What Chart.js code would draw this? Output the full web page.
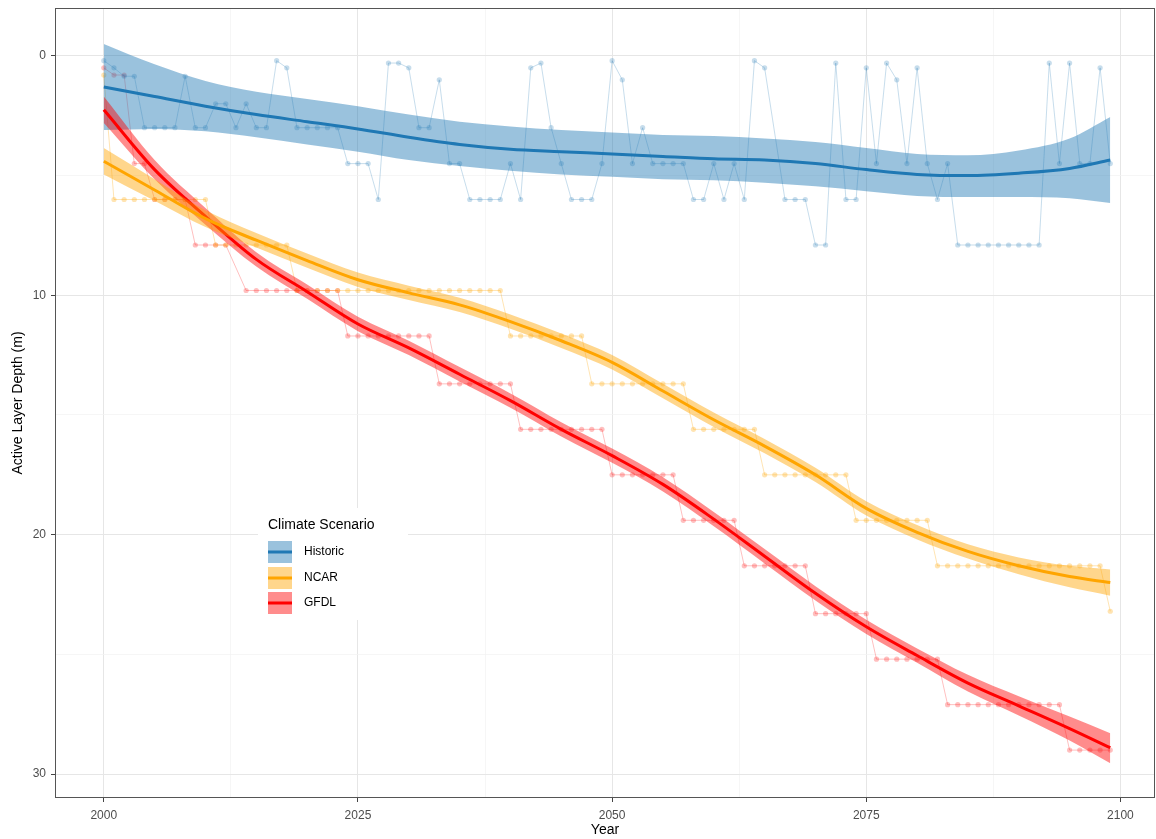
<!DOCTYPE html>
<html>
<head>
<meta charset="utf-8">
<script src="https://cdn.jsdelivr.net/npm/chart.js@4.4.1/dist/chart.umd.min.js"></script>
<style>
  html, body { margin: 0; padding: 0; background: #fff; }
</style>
</head>
<body>
<canvas id="ald" width="1156" height="839"></canvas>
<script>
// yearly observations
const years = [
  2000, 2001, 2002, 2003, 2004, 2005, 2006, 2007, 2008, 2009,
  2010, 2011, 2012, 2013, 2014, 2015, 2016, 2017, 2018, 2019,
  2020, 2021, 2022, 2023, 2024, 2025, 2026, 2027, 2028, 2029,
  2030, 2031, 2032, 2033, 2034, 2035, 2036, 2037, 2038, 2039,
  2040, 2041, 2042, 2043, 2044, 2045, 2046, 2047, 2048, 2049,
  2050, 2051, 2052, 2053, 2054, 2055, 2056, 2057, 2058, 2059,
  2060, 2061, 2062, 2063, 2064, 2065, 2066, 2067, 2068, 2069,
  2070, 2071, 2072, 2073, 2074, 2075, 2076, 2077, 2078, 2079,
  2080, 2081, 2082, 2083, 2084, 2085, 2086, 2087, 2088, 2089,
  2090, 2091, 2092, 2093, 2094, 2095, 2096, 2097, 2098, 2099
];

const historic = [
  0.2, 0.5, 0.85, 0.85, 3.0, 3.0, 3.0, 3.0, 0.85, 3.0,
  3.0, 2.0, 2.0, 3.0, 2.0, 3.0, 3.0, 0.2, 0.5, 3.0,
  3.0, 3.0, 3.0, 3.0, 4.5, 4.5, 4.5, 6.0, 0.3, 0.3,
  0.5, 3.0, 3.0, 1.0, 4.5, 4.5, 6.0, 6.0, 6.0, 6.0,
  4.5, 6.0, 0.5, 0.3, 3.0, 4.5, 6.0, 6.0, 6.0, 4.5,
  0.2, 1.0, 4.5, 3.0, 4.5, 4.5, 4.5, 4.5, 6.0, 6.0,
  4.5, 6.0, 4.5, 6.0, 0.2, 0.5, null, 6.0, 6.0, 6.0,
  7.9, 7.9, 0.3, 6.0, 6.0, 0.5, 4.5, 0.3, 1.0, 4.5,
  0.5, 4.5, 6.0, 4.5, 7.9, 7.9, 7.9, 7.9, 7.9, 7.9,
  7.9, 7.9, 7.9, 0.3, 4.5, 0.3, 4.5, 4.5, 0.5, 4.5
];

const ncar = [
  0.8, 6.0, 6.0, 6.0, 6.0, 6.0, 6.0, 6.0, 6.0, 6.0,
  6.0, 7.9, 7.9, 7.9, 7.9, 7.9, 7.9, 7.9, 7.9, 9.8,
  9.8, 9.8, 9.8, 9.8, 9.8, 9.8, 9.8, 9.8, 9.8, 9.8,
  9.8, 9.8, 9.8, 9.8, 9.8, 9.8, 9.8, 9.8, 9.8, 9.8,
  11.7, 11.7, 11.7, 11.7, 11.7, 11.7, 11.7, 11.7, 13.7, 13.7,
  13.7, 13.7, 13.7, 13.7, 13.7, 13.7, 13.7, 13.7, 15.6, 15.6,
  15.6, 15.6, 15.6, 15.6, 15.6, 17.5, 17.5, 17.5, 17.5, 17.5,
  17.5, 17.5, 17.5, 17.5, 19.4, 19.4, 19.4, 19.4, 19.4, 19.4,
  19.4, 19.4, 21.3, 21.3, 21.3, 21.3, 21.3, 21.3, 21.3, 21.3,
  21.3, 21.3, 21.3, 21.3, 21.3, 21.3, 21.3, 21.3, 21.3, 23.2
];

const gfdl = [
  0.5, 0.8, 0.8, 4.5, 4.5, 6.0, 6.0, 6.0, 6.0, 7.9,
  7.9, 7.9, 7.9, null, 9.8, 9.8, 9.8, 9.8, 9.8, 9.8,
  9.8, 9.8, 9.8, 9.8, 11.7, 11.7, 11.7, 11.7, 11.7, 11.7,
  11.7, 11.7, 11.7, 13.7, 13.7, 13.7, 13.7, 13.7, 13.7, 13.7,
  13.7, 15.6, 15.6, 15.6, 15.6, 15.6, 15.6, 15.6, 15.6, 15.6,
  17.5, 17.5, 17.5, 17.5, 17.5, 17.5, 17.5, 19.4, 19.4, 19.4,
  19.4, 19.4, 19.4, 21.3, 21.3, 21.3, 21.3, 21.3, 21.3, 21.3,
  23.3, 23.3, 23.3, 23.3, 23.3, 23.3, 25.2, 25.2, 25.2, 25.2,
  25.2, 25.2, 25.2, 27.1, 27.1, 27.1, 27.1, 27.1, 27.1, 27.1,
  27.1, 27.1, 27.1, 27.1, 27.1, 29.0, 29.0, 29.0, 29.0, 29.0
];

// smoothed fits with confidence band, read every 5 years
const fitYears = [2000, 2005, 2010, 2015, 2020, 2025, 2030, 2035, 2040, 2045,
                  2050, 2055, 2060, 2065, 2070, 2075, 2080, 2085, 2090, 2095, 2099];

const histFit = [1.3, 1.7, 2.1, 2.45, 2.75, 3.05, 3.4, 3.7, 3.9, 4.0,
                 4.1, 4.2, 4.3, 4.35, 4.5, 4.75, 4.95, 5.0, 4.9, 4.7, 4.35];
const histLo = [-0.5, 0.35, 1.05, 1.5, 1.8, 2.1, 2.45, 2.75, 2.95, 3.1,
                3.2, 3.3, 3.35, 3.45, 3.6, 3.85, 4.1, 4.15, 3.95, 3.45, 2.55];
const histHi = [3.1, 3.05, 3.15, 3.4, 3.7, 4.0, 4.35, 4.6, 4.8, 4.95,
                5.05, 5.15, 5.2, 5.3, 5.45, 5.65, 5.85, 5.9, 5.9, 5.95, 6.15];

const ncarFit = [4.4, 5.6, 6.8, 7.7, 8.55, 9.35, 9.9, 10.4, 11.1, 11.9,
                 12.8, 14.0, 15.2, 16.3, 17.5, 18.9, 19.9, 20.7, 21.3, 21.75, 22.0];
const ncarLo = [3.85, 5.15, 6.45, 7.4, 8.25, 9.05, 9.6, 10.1, 10.8, 11.6,
                12.5, 13.7, 14.9, 16.0, 17.2, 18.6, 19.6, 20.4, 20.95, 21.3, 21.45];
const ncarHi = [4.95, 6.05, 7.15, 8.0, 8.85, 9.65, 10.2, 10.7, 11.4, 12.2,
                13.1, 14.3, 15.5, 16.6, 17.8, 19.2, 20.2, 21.0, 21.65, 22.2, 22.55];

const gfdlFit = [2.25, 4.75, 6.7, 8.5, 9.85, 11.2, 12.2, 13.3, 14.4, 15.6,
                 16.7, 17.9, 19.35, 20.9, 22.45, 23.85, 25.05, 26.2, 27.15, 28.1, 28.9];
const gfdlLo = [1.7, 4.35, 6.35, 8.2, 9.55, 10.9, 11.9, 13.0, 14.1, 15.3,
                16.4, 17.6, 19.05, 20.6, 22.15, 23.55, 24.75, 25.85, 26.75, 27.6, 28.3];
const gfdlHi = [2.8, 5.15, 7.05, 8.8, 10.15, 11.5, 12.5, 13.6, 14.7, 15.9,
                17.0, 18.2, 19.65, 21.2, 22.75, 24.15, 25.35, 26.55, 27.55, 28.6, 29.55];

const xTicks = [2000, 2012.5, 2025, 2037.5, 2050, 2062.5, 2075, 2087.5, 2100];
const yTicks = [0, 5, 10, 15, 20, 25, 30];

const scenarios = [
  { name: 'Historic', line: '#1F78B4', band: 'rgba(31,120,180,0.45)' },
  { name: 'NCAR', line: '#FFA500', band: 'rgba(255,165,0,0.45)' },
  { name: 'GFDL', line: '#FF0000', band: 'rgba(255,0,0,0.45)' }
];

const FONT = "'Liberation Sans', Arial, sans-serif";

function pts(xs, ys) {
  return xs.map((x, i) => ({ x: x, y: ys[i] }));
}

function fitLine(vals, color) {
  return {
    data: pts(fitYears, vals), borderColor: color, borderWidth: 3,
    pointRadius: 0, fill: false, cubicInterpolationMode: 'monotone'
  };
}
function bandEdge(vals, fillTo, color) {
  return {
    data: pts(fitYears, vals), borderWidth: 0, borderColor: 'rgba(0,0,0,0)',
    pointRadius: 0, cubicInterpolationMode: 'monotone',
    fill: fillTo === null ? false : fillTo, backgroundColor: color
  };
}
function raw(vals, color) {
  return {
    data: pts(years, vals), borderColor: color, borderWidth: 1,
    pointRadius: 2.6, pointBorderWidth: 0, pointBackgroundColor: color,
    fill: false, tension: 0, spanGaps: true
  };
}

const datasets = [
  fitLine(ncarFit, scenarios[1].line),
  bandEdge(ncarHi, 2, scenarios[1].band),
  bandEdge(ncarLo, null, 'rgba(0,0,0,0)'),
  fitLine(gfdlFit, scenarios[2].line),
  bandEdge(gfdlHi, 5, scenarios[2].band),
  bandEdge(gfdlLo, null, 'rgba(0,0,0,0)'),
  fitLine(histFit, scenarios[0].line),
  bandEdge(histHi, 8, scenarios[0].band),
  bandEdge(histLo, null, 'rgba(0,0,0,0)'),
  raw(historic, 'rgba(31,120,180,0.25)'),
  raw(ncar, 'rgba(255,165,0,0.3)'),
  raw(gfdl, 'rgba(255,0,0,0.25)')
];

// panel border + legend inside the panel
const decor = {
  id: 'decor',
  afterDraw(chart) {
    const c = chart.ctx, a = chart.chartArea;
    c.save();
    c.strokeStyle = '#555';
    c.lineWidth = 1;
    c.strokeRect(a.left + 0.5, a.top + 0.5, a.right - a.left - 1, a.bottom - a.top - 1);

    const lx = 258, ly = 508;
    c.fillStyle = '#fff';
    c.fillRect(lx, ly, 150, 112);
    c.fillStyle = '#000';
    c.font = '14px ' + FONT;
    c.textBaseline = 'middle';
    c.textAlign = 'left';
    c.fillText('Climate Scenario', 268, 525);
    const centers = [552, 578, 603];
    scenarios.forEach((s, i) => {
      const cy = centers[i];
      c.fillStyle = s.band;
      c.fillRect(268, cy - 11, 24, 22);
      c.strokeStyle = s.line;
      c.lineWidth = 3;
      c.beginPath();
      c.moveTo(268, cy);
      c.lineTo(292, cy);
      c.stroke();
      c.fillStyle = '#000';
      c.font = '12px ' + FONT;
      c.fillText(s.name, 304, cy);
    });
    c.restore();
  }
};

new Chart(document.getElementById('ald'), {
  type: 'line',
  data: { datasets: datasets },
  plugins: [decor],
  options: {
    responsive: false,
    animation: false,
    devicePixelRatio: 1,
    layout: { autoPadding: false, padding: { top: 8, right: 1, left: 0, bottom: 0 } },
    plugins: { legend: { display: false }, tooltip: { enabled: false } },
    scales: {
      x: {
        type: 'linear', min: 1995.2, max: 2103.4,
        afterBuildTicks: s => { s.ticks = xTicks.map(v => ({ value: v })); },
        afterFit: s => { s.height = 41; s.paddingLeft = 0; s.paddingRight = 0; },
        border: { display: false },
        grid: {
          color: c => (c.tick && c.tick.value % 25 === 0) ? '#e6e6e6' : '#f2f2f2',
          lineWidth: c => (c.tick && c.tick.value % 25 === 0) ? 1 : 0.7,
          tickLength: 4, tickWidth: 1,
          tickColor: c => (c.tick && c.tick.value % 25 === 0) ? '#444' : 'rgba(0,0,0,0)'
        },
        ticks: {
          autoSkip: false, maxRotation: 0, padding: 6, color: '#4d4d4d',
          font: { family: FONT, size: 12 },
          callback: v => (v % 25 === 0 ? String(v) : '')
        },
        title: {
          display: true, text: 'Year', color: '#000',
          font: { family: FONT, size: 14 }, padding: { top: 0, bottom: 0 }
        }
      },
      y: {
        type: 'linear', min: -2, max: 31, reverse: true,
        afterBuildTicks: s => { s.ticks = yTicks.map(v => ({ value: v })); },
        afterFit: s => { s.width = 55; s.paddingTop = 0; s.paddingBottom = 0; },
        border: { display: false },
        grid: {
          color: c => (c.tick && c.tick.value % 10 === 0) ? '#e6e6e6' : '#f2f2f2',
          lineWidth: c => (c.tick && c.tick.value % 10 === 0) ? 1 : 0.7,
          tickLength: 4, tickWidth: 1,
          tickColor: c => (c.tick && c.tick.value % 10 === 0) ? '#444' : 'rgba(0,0,0,0)'
        },
        ticks: {
          autoSkip: false, padding: 5, color: '#4d4d4d',
          font: { family: FONT, size: 12 },
          callback: v => (v % 10 === 0 ? String(v) : '')
        },
        title: {
          display: true, text: 'Active Layer Depth (m)', color: '#000',
          font: { family: FONT, size: 14 }, padding: { top: 10, bottom: 0 }
        }
      }
    }
  }
});
</script>
</body>
</html>
